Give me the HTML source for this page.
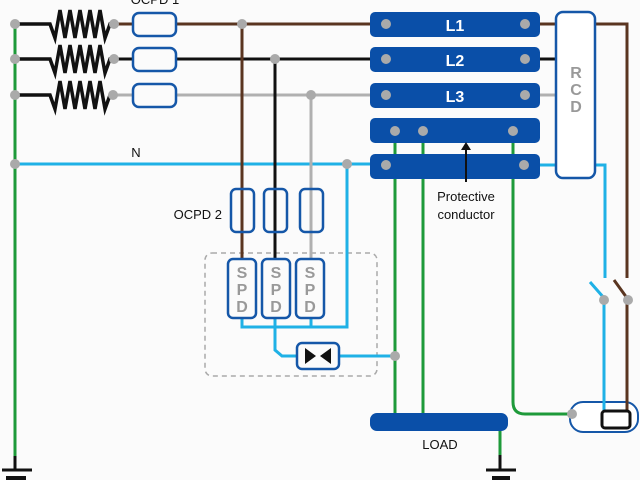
<!DOCTYPE html>
<html><head><style>body{margin:0;background:#fbfbfb}svg{display:block}</style></head><body>
<svg width="640" height="480" viewBox="0 0 640 480" xmlns="http://www.w3.org/2000/svg" font-family="Liberation Sans, sans-serif">
<rect width="640" height="480" fill="#fbfbfb"/>
<!-- dashed box -->
<rect x="205" y="253" width="172" height="123" rx="7" fill="none" stroke="#aaa" stroke-width="1.5" stroke-dasharray="5,4"/>
<!-- green left -->
<line x1="15" y1="24" x2="15" y2="458" stroke="#1e9a3a" stroke-width="3"/>
<line x1="15" y1="456" x2="15" y2="470" stroke="#111" stroke-width="3"/>
<line x1="2" y1="470" x2="32" y2="470" stroke="#111" stroke-width="3"/>
<line x1="6" y1="478" x2="26" y2="478" stroke="#111" stroke-width="4"/>
<!-- resistors -->
<g stroke="#111" stroke-width="3.5" fill="none" stroke-linejoin="miter">
<polyline points="15,24 50,24 55,38 60,10 65,38 70,10 75,38 80,10 85,38 90,10 95,38 100,10 105,38 110,24 114,24"/>
<polyline points="15,59 50,59 55,73 60,45 65,73 70,45 75,73 80,45 85,73 90,45 95,73 100,45 105,73 110,59 114,59"/>
<polyline points="15,95 50,95 55,109 60,81 65,109 70,81 75,109 80,81 85,109 90,81 95,109 100,81 105,109 110,95 114,95"/>
</g>
<!-- phase lines -->
<line x1="114" y1="24" x2="372" y2="24" stroke="#5a3520" stroke-width="3"/>
<line x1="114" y1="59" x2="372" y2="59" stroke="#111" stroke-width="3"/>
<line x1="114" y1="95" x2="372" y2="95" stroke="#b0b0b0" stroke-width="3"/>
<line x1="15" y1="164" x2="372" y2="164" stroke="#1fb1e6" stroke-width="3"/>
<!-- branches -->
<line x1="242" y1="24" x2="242" y2="262" stroke="#5a3520" stroke-width="3"/>
<line x1="275" y1="59" x2="275" y2="262" stroke="#111" stroke-width="3"/>
<line x1="311" y1="95" x2="311" y2="262" stroke="#b0b0b0" stroke-width="3"/>
<!-- blue SPD wiring -->
<g stroke="#1fb1e6" stroke-width="3" fill="none">
<polyline points="242,316 242,327 347,327 347,164"/>
<line x1="311" y1="316" x2="311" y2="327"/>
<polyline points="275,316 275,350 282,356 300,356"/>
<line x1="336" y1="356" x2="395" y2="356"/>
<polyline points="538,165 605,165 605,278"/>
<polyline points="590,282 604,298 604,412"/>
</g>
<!-- brown right -->
<g stroke="#5a3520" stroke-width="3" fill="none">
<polyline points="538,24 627,24 627,278"/>
<polyline points="614,280 627,298 627,412"/>
</g>
<line x1="538" y1="59" x2="560" y2="59" stroke="#111" stroke-width="3"/>
<line x1="538" y1="95" x2="560" y2="95" stroke="#b0b0b0" stroke-width="3"/>
<!-- green to load -->
<g stroke="#1e9a3a" stroke-width="3" fill="none">
<line x1="395" y1="131" x2="395" y2="415"/>
<line x1="423" y1="131" x2="423" y2="415"/>
<path d="M513,131 V402 Q513,414 525,414 H572"/>
<line x1="500" y1="430" x2="500" y2="457"/>
</g>
<line x1="500" y1="455" x2="500" y2="470" stroke="#111" stroke-width="3"/>
<line x1="486" y1="470" x2="516" y2="470" stroke="#111" stroke-width="3"/>
<line x1="492" y1="478" x2="510" y2="478" stroke="#111" stroke-width="4"/>
<!-- fuses OCPD1 -->
<g fill="#fbfbfb" stroke="#1557a8" stroke-width="2.5">
<rect x="133" y="13" width="43" height="23" rx="6"/>
<rect x="133" y="48" width="43" height="23" rx="6"/>
<rect x="133" y="84" width="43" height="23" rx="6"/>
</g>
<!-- OCPD2 -->
<g fill="none" stroke="#1557a8" stroke-width="2.5">
<rect x="231" y="189" width="23" height="43" rx="5"/>
<rect x="264" y="189" width="23" height="43" rx="5"/>
<rect x="300" y="189" width="23" height="43" rx="5"/>
</g>
<!-- SPDs -->
<g fill="#fbfbfb" stroke="#1557a8" stroke-width="2.5">
<rect x="228" y="259" width="28" height="59" rx="5"/>
<rect x="262" y="259" width="28" height="59" rx="5"/>
<rect x="296" y="259" width="28" height="59" rx="5"/>
<rect x="297" y="343" width="42" height="26" rx="5"/>
</g>
<g fill="#999" font-weight="bold" font-size="16" text-anchor="middle">
<text x="242" y="278">S</text><text x="242" y="295">P</text><text x="242" y="312">D</text>
<text x="276" y="278">S</text><text x="276" y="295">P</text><text x="276" y="312">D</text>
<text x="310" y="278">S</text><text x="310" y="295">P</text><text x="310" y="312">D</text>
</g>
<polygon points="305,348 305,364 316,356" fill="#111"/>
<polygon points="331,348 331,364 320,356" fill="#111"/>
<!-- bus bars -->
<g fill="#0a4fa8">
<rect x="370" y="12" width="170" height="25" rx="5"/>
<rect x="370" y="47" width="170" height="25" rx="5"/>
<rect x="370" y="83" width="170" height="25" rx="5"/>
<rect x="370" y="118" width="170" height="25" rx="5"/>
<rect x="370" y="154" width="170" height="25" rx="5"/>
<rect x="370" y="413" width="138" height="18" rx="7"/>
</g>
<g fill="#fff" font-weight="bold" font-size="16" text-anchor="middle">
<text x="455" y="31">L1</text><text x="455" y="66">L2</text><text x="455" y="102">L3</text>
</g>
<!-- RCD -->
<rect x="556" y="12" width="39" height="166" rx="7" fill="#fff" stroke="#1557a8" stroke-width="2.5"/>
<g fill="#999" font-weight="bold" font-size="16" text-anchor="middle">
<text x="576" y="78">R</text><text x="576" y="95">C</text><text x="576" y="112">D</text>
</g>
<!-- right pill -->
<rect x="570" y="402" width="68" height="30" rx="13" fill="#fff" stroke="#1557a8" stroke-width="2"/>
<line x1="604" y1="400" x2="604" y2="412" stroke="#1fb1e6" stroke-width="3"/>
<line x1="627" y1="400" x2="627" y2="412" stroke="#5a3520" stroke-width="3"/>
<rect x="602" y="411" width="28" height="17" rx="3" fill="none" stroke="#111" stroke-width="3"/>
<!-- arrow -->
<line x1="466" y1="182" x2="466" y2="147" stroke="#111" stroke-width="2"/>
<polygon points="461,150 471,150 466,142" fill="#111"/>
<!-- nodes -->
<g fill="#aaa">
<circle cx="15" cy="24" r="5"/><circle cx="15" cy="59" r="5"/><circle cx="15" cy="95" r="5"/><circle cx="15" cy="164" r="5"/>
<circle cx="114" cy="24" r="5"/><circle cx="114" cy="59" r="5"/><circle cx="113" cy="95" r="5"/>
<circle cx="242" cy="24" r="5"/><circle cx="275" cy="59" r="5"/><circle cx="311" cy="95" r="5"/><circle cx="347" cy="164" r="5"/>
<circle cx="386" cy="24" r="5"/><circle cx="525" cy="24" r="5"/>
<circle cx="386" cy="59" r="5"/><circle cx="525" cy="59" r="5"/>
<circle cx="386" cy="95" r="5"/><circle cx="525" cy="95" r="5"/>
<circle cx="395" cy="131" r="5"/><circle cx="423" cy="131" r="5"/><circle cx="513" cy="131" r="5"/>
<circle cx="386" cy="165" r="5"/><circle cx="524" cy="165" r="5"/>
<circle cx="395" cy="356" r="5"/><circle cx="572" cy="414" r="5"/>
<circle cx="604" cy="300" r="5"/><circle cx="628" cy="300" r="5"/>
</g>
<!-- labels -->
<g fill="#111" font-size="13">
<text x="155" y="4" text-anchor="middle">OCPD 1</text>
<text x="136" y="157" text-anchor="middle">N</text>
<text x="222" y="219" text-anchor="end">OCPD 2</text>
<text x="466" y="201" text-anchor="middle">Protective</text>
<text x="466" y="219" text-anchor="middle">conductor</text>
<text x="440" y="449" text-anchor="middle">LOAD</text>
</g>
</svg>
</body></html>
